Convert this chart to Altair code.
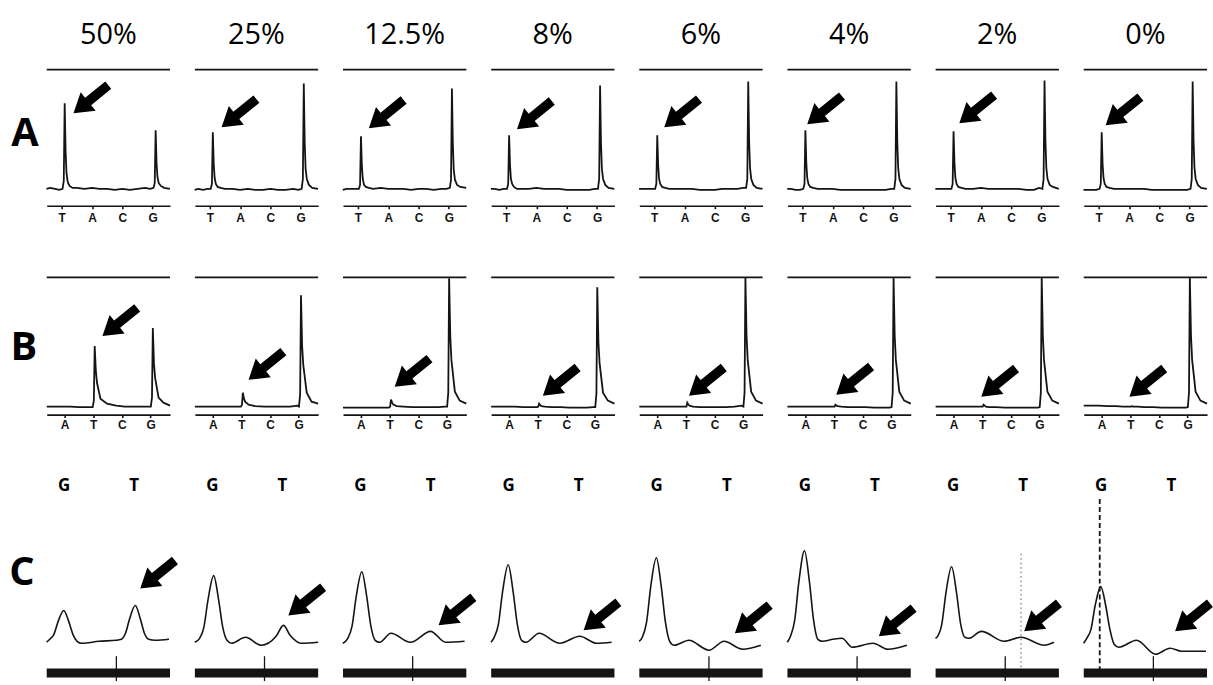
import altair as alt
import pandas as pd

PCTS = ["50%", "25%", "12.5%", "8%", "6%", "4%", "2%", "0%"]
ROW_NAMES = ["A", "B", "C"]

# ---------------- Row A : pyrograms, dispensation T A C G ----------------
A_BASES = ["T", "A", "C", "G"]
A_X = [0.5, 0.62, 0.78, 0.92, 1.03, 1.07, 1.10, 1.13, 1.16, 1.20, 1.26, 1.36,
       1.5, 1.75, 2.0, 2.25, 2.5, 2.75, 3.0, 3.25, 3.5, 3.75, 3.92,
       4.03, 4.07, 4.10, 4.13, 4.16, 4.20, 4.27, 4.38, 4.57]
A_Y = [
    [1, 2, 1, 0, 1, 9, 87, 39, 17, 8, 4, 2, 2, 1, 2, 1, 1, 0, 1, 0, 1, 2, 1, 2, 7, 60, 27, 13, 7, 4, 2, 1],
    [0, 1, 0, 1, 1, 6, 58, 26, 12, 6, 3, 2, 1, 1, 0, 1, 0, 0, 1, 0, 0, 1, 0, 1, 11, 107, 48, 21, 11, 5, 2, 1],
    [0, 1, 1, 1, 1, 5, 54, 24, 11, 5, 3, 2, 1, 2, 1, 1, 1, 0, 1, 1, 0, 1, 1, 2, 10, 102, 46, 20, 10, 5, 3, 2],
    [1, 1, 0, 1, 1, 6, 55, 25, 11, 6, 3, 1, 1, 1, 2, 1, 1, 1, 0, 0, 0, 0, 1, 1, 11, 105, 47, 21, 11, 5, 2, 1],
    [1, 1, 1, 1, 1, 6, 55, 25, 11, 6, 3, 2, 1, 1, 1, 1, 0, 0, 0, 1, 1, 1, 2, 2, 11, 109, 49, 22, 11, 5, 2, 1],
    [1, 1, 0, 0, 1, 6, 60, 27, 12, 6, 3, 2, 1, 1, 1, 0, 0, 0, 0, 0, 0, 0, 1, 1, 11, 109, 49, 22, 11, 5, 2, 1],
    [1, 1, 1, 1, 1, 6, 59, 27, 12, 6, 3, 2, 1, 1, 2, 1, 1, 1, 1, 1, 0, 0, 2, 1, 11, 110, 50, 22, 11, 5, 3, 1],
    [0, 0, 0, 0, 1, 6, 58, 26, 12, 6, 3, 2, 1, 1, 1, 1, 1, 0, 0, 0, 0, 0, 0, 1, 11, 109, 49, 22, 11, 5, 2, 1],
]
A_ARROW_X = [1.39, 1.39, 1.36, 1.36, 1.33, 1.16, 1.29, 1.23]
A_ARROW_Y = [77, 63, 62, 61, 63, 66, 67, 65]

# ---------------- Row B : pyrograms, dispensation A T C G ----------------
B_BASES = ["A", "T", "C", "G"]
B_X = [0.375, 0.6, 0.9, 1.2, 1.5, 1.75, 1.98, 2.02, 2.05, 2.09, 2.13, 2.25, 2.48, 2.8,
       3.1, 3.4, 3.7, 3.95, 4.01, 4.05, 4.08, 4.12, 4.16, 4.28, 4.45, 4.68]
B_Y = [
    [1, 1, 1, 1, 0.5, 0.5, 0.5, 7, 62, 37, 25, 9, 4, 2, 1, 1, 1, 1, 1, 10, 80, 44, 30, 10, 5, 2],
    [1, 1, 1, 1, 1, 1, 1, 3, 15, 9, 6, 3, 1.5, 1, 1, 1, 1, 2, 1, 13, 113, 62, 43, 15, 6, 4],
    [0, 0, 0, 0, 0, 0, 0, 1, 8, 5, 3, 1.5, 1, 0.5, 0.5, 0.5, 0.5, 1, 1, 15, 130, 72, 48, 16, 7, 4],
    [1, 1, 1, 1, 0.5, 0.5, 0.5, 1, 4, 2.5, 1.5, 1, 0.5, 0.5, 0, 0, 0, 0.5, 0.5, 14, 121, 66, 45, 15, 7, 4],
    [1, 1, 1, 1, 1, 1, 1, 1, 5, 3, 2, 1, 0.5, 0.5, 0.5, 0.5, 1, 2, 1, 15, 131, 72, 48, 16, 7, 4],
    [1, 1, 1, 1, 1, 1, 1, 1, 3, 2, 1.5, 1, 0.5, 0.5, 0.5, 0, 0, 0, 0.5, 15, 131, 72, 48, 16, 7, 4],
    [1, 1, 1, 1, 1, 1, 1, 1, 3, 2, 1, 0.5, 0.5, 0, 0, 0, 0, 0, 0.5, 15, 131, 72, 48, 16, 7, 4],
    [2, 2, 2, 1.5, 1.5, 1, 1, 1, 1.5, 1, 1, 1, 0.5, 0.5, 0, 0, 0, 0, 0.5, 15, 131, 72, 48, 16, 7, 4],
]
B_ARROW_X = [2.32, 2.25, 2.18, 2.18, 2.11, 2.08, 1.97, 1.97]
B_ARROW_Y = [72, 28, 21, 12, 12, 13, 11, 11]

# ---------------- Row C : sequencing traces, G and T ----------------
C_BASES = ["G", "T"]
C_BASE_POS = [1.0, 3.0]
C_X = [
    [0.5, 0.59, 0.71, 0.83, 0.99, 1.13, 1.25, 1.37, 1.5, 2.0, 2.49, 2.63, 2.75, 2.87, 3.03, 3.17, 3.29, 3.41, 3.6, 3.99],
    [0.5, 0.64, 0.76, 0.88, 1.04, 1.18, 1.30, 1.42, 1.55, 1.95, 2.40, 2.82, 3.03, 3.22, 3.54, 4.02],
    [0.5, 0.64, 0.76, 0.88, 1.04, 1.18, 1.30, 1.42, 1.55, 1.87, 2.43, 3.00, 3.43, 3.97],
    [0.5, 0.59, 0.71, 0.83, 0.99, 1.13, 1.25, 1.37, 1.5, 1.87, 2.46, 3.03, 3.51, 3.94],
    [0.5, 0.59, 0.71, 0.83, 0.99, 1.13, 1.25, 1.37, 1.5, 1.92, 2.49, 2.92, 3.45, 3.97],
    [0.5, 0.59, 0.71, 0.83, 0.99, 1.13, 1.25, 1.37, 1.5, 1.8, 2.06, 2.35, 2.94, 3.37, 3.91],
    [0.5, 0.56, 0.68, 0.80, 0.96, 1.10, 1.22, 1.34, 1.45, 1.81, 2.46, 2.94, 3.60, 3.88],
    [0.5, 0.59, 0.71, 0.83, 0.99, 1.13, 1.25, 1.37, 1.50, 2.01, 2.55, 2.97, 3.3, 3.99],
]
C_Y = [
    [-1, 2, 7, 20, 31, 20, 7, 0, -2, 0, 1, 2, 8, 23, 36, 23, 8, 2, 1, 2],
    [-1, 3, 14, 42, 66, 42, 14, 1, -2, 4, -4, 5, 16, 6, -2, -1],
    [-2, 3, 15, 45, 70, 45, 15, 1, -1, 8, -1, 10, -1, 0],
    [-1, 4, 17, 50, 77, 50, 17, 1, -1, 8, -2, 5, -2, -1],
    [0, 4, 19, 55, 84, 55, 19, 0, -4, 1, -9, 0, -8, -4],
    [-1, 5, 21, 60, 91, 60, 21, 2, 0, 2, 3, -6, -2, -8, -4],
    [3, 5, 17, 49, 75, 49, 17, 4, 3, 10, 0, 4, -4, -1],
    [-2, 3, 12, 36, 55, 36, 12, -3, -6, 1, -13, -7, -10, -10],
]
C_ARROW_X = [3.17, 3.17, 3.23, 3.14, 3.23, 3.11, 3.03, 3.11]
C_ARROW_Y = [53, 26, 16, 11, 8, 5, 10, 10]
C_TICK_X = [2.49, 2.49, 2.49, None, 2.49, 2.49, 2.49, 2.49]
C_DOT_LINE = {"2%": (2.94, 88, -29)}     # faint dotted guide at T
C_DASH_LINE = {"0%": (0.96, 143, -30)}   # dashed guide at G

# ---------------- layout constants ----------------
W = 124
A_DOM_X, A_DOM_Y, A_H = [0.508, 4.574], [-16, 121], 137
B_DOM_X, B_DOM_Y, B_H = [0.375, 4.68], [-7, 131], 138
C_DOM_X, C_DOM_Y, C_H = [0.504, 4.02], [-42, 156], 198
BLACK = "#141414"
ARROW = "M0,0L12,19L4.8,19L4.8,45L-4.8,45L-4.8,19L-12,19Z"
ARROW_ANGLE = 231


def build(xs_rows, ys_rows, ax, ay, extra):
    recs = []
    for k, p in enumerate(PCTS):
        xs = xs_rows[k] if isinstance(xs_rows[0], list) else xs_rows
        for j, (x, y) in enumerate(zip(xs, ys_rows[k])):
            recs.append(dict(pct=p, kind="trace", x=x, y=y, i=j))
        recs.append(dict(pct=p, kind="arrow", x=ax[k], y=ay[k]))
        extra(k, p, recs)
    return pd.DataFrame(recs)


def extra_a(k, p, recs):
    recs.append(dict(pct=p, kind="top", y=A_DOM_Y[1]))
    recs.append(dict(pct=p, kind="head", x=2.54, y=156, label=p))
    if k == 0:
        recs.append(dict(pct=p, kind="rowlab", x=-0.213, y=56, label=ROW_NAMES[0]))


def extra_b(k, p, recs):
    recs.append(dict(pct=p, kind="top", y=B_DOM_Y[1]))
    if k == 0:
        recs.append(dict(pct=p, kind="rowlab", x=-0.424, y=60, label=ROW_NAMES[1]))


def extra_c(k, p, recs):
    recs.append(dict(pct=p, kind="bar", y=-32))
    if C_TICK_X[k] is not None:
        recs.append(dict(pct=p, kind="tick", x=C_TICK_X[k], y=-15, y2=-40))
    for b, pos in zip(C_BASES, C_BASE_POS):
        recs.append(dict(pct=p, kind="base", x=pos, y=156, label=b))
    if p in C_DOT_LINE:
        x, y1, y2 = C_DOT_LINE[p]
        recs.append(dict(pct=p, kind="vdot", x=x, y=y1, y2=y2))
    if p in C_DASH_LINE:
        x, y1, y2 = C_DASH_LINE[p]
        recs.append(dict(pct=p, kind="vdash", x=x, y=y1, y2=y2))
    if k == 0:
        recs.append(dict(pct=p, kind="rowlab", x=-0.205, y=69, label=ROW_NAMES[2]))


dfA = build(A_X, A_Y, A_ARROW_X, A_ARROW_Y, extra_a)
dfB = build(B_X, B_Y, B_ARROW_X, B_ARROW_Y, extra_b)
dfC = build(C_X, C_Y, C_ARROW_X, C_ARROW_Y, extra_c)


def f(kind):
    return f"datum.kind == '{kind}'"


def base_axis(bases, pad):
    expr = "[''," + ",".join(f"'{b}'" for b in bases) + "][datum.value]"
    return alt.Axis(values=[1, 2, 3, 4], labelExpr=expr, title=None, grid=False,
                    domainColor=BLACK, domainWidth=1.6, tickColor=BLACK, tickWidth=1.6,
                    tickSize=3, labelColor=BLACK, labelFont="Liberation Sans",
                    labelFontWeight="bold", labelFontSize=12, labelPadding=pad,
                    labelFlush=False, labelOverlap=False)


def panel(df, dom_x, dom_y, h, axis, interp, kinds_extra, lw):
    X = alt.X("x:Q", scale=alt.Scale(domain=dom_x, nice=False, zero=False), axis=axis)
    Y = alt.Y("y:Q", scale=alt.Scale(domain=dom_y, nice=False, zero=False), axis=None)
    layers = [
        alt.Chart().mark_line(color=BLACK, strokeWidth=lw, interpolate=interp)
        .encode(x=X, y=Y, order="i:Q").transform_filter(f("trace")),
        alt.Chart().mark_point(shape=ARROW, size=4, angle=ARROW_ANGLE, filled=True,
                               color="#000000", opacity=1, strokeWidth=0)
        .encode(x=X, y=Y).transform_filter(f("arrow")),
    ]
    present = set(df["kind"])
    if "rowlab" in present:
        layers.append(alt.Chart().mark_text(font="Open Sans", fontSize=40, fontWeight="bold",
                                            color="#000000", baseline="middle", align="center")
                      .encode(x=X, y=Y, text="label:N").transform_filter(f("rowlab")))
    for kind in kinds_extra:
        if kind not in present:
            continue
        if kind == "top":
            layers.append(alt.Chart().mark_rule(color=BLACK, strokeWidth=1.7)
                          .encode(y=Y).transform_filter(f("top")))
        elif kind == "head":
            layers.append(alt.Chart().mark_text(font="Open Sans", fontSize=29, color="#000000",
                                                baseline="middle", align="center")
                          .encode(x=X, y=Y, text="label:N").transform_filter(f("head")))
        elif kind == "bar":
            layers.append(alt.Chart().mark_rule(color=BLACK, strokeWidth=9)
                          .encode(y=Y).transform_filter(f("bar")))
        elif kind == "tick":
            layers.append(alt.Chart().mark_rule(color=BLACK, strokeWidth=1.3)
                          .encode(x=X, y=Y, y2="y2:Q").transform_filter(f("tick")))
        elif kind == "base":
            layers.append(alt.Chart().mark_text(font="Open Sans", fontSize=17, fontWeight="bold",
                                                color="#000000", baseline="middle", align="center")
                          .encode(x=X, y=Y, text="label:N").transform_filter(f("base")))
        elif kind == "vdot":
            layers.append(alt.Chart().mark_rule(color="#555555", strokeWidth=1, strokeDash=[1.5, 3])
                          .encode(x=X, y=Y, y2="y2:Q").transform_filter(f("vdot")))
        elif kind == "vdash":
            layers.append(alt.Chart().mark_rule(color=BLACK, strokeWidth=1.8, strokeDash=[5, 3])
                          .encode(x=X, y=Y, y2="y2:Q").transform_filter(f("vdash")))
    return alt.layer(*layers, data=df).properties(width=W, height=h)


def row_panels(df, dom_x, dom_y, h, axis, interp, kinds_extra, lw):
    return [panel(df[df["pct"] == p].reset_index(drop=True), dom_x, dom_y, h, axis, interp,
                  kinds_extra, lw)
            for p in PCTS]


panels = (row_panels(dfA, A_DOM_X, A_DOM_Y, A_H, base_axis(A_BASES, 4), "linear", ["top", "head"], 1.8)
          + row_panels(dfB, B_DOM_X, B_DOM_Y, B_H, base_axis(B_BASES, 2), "linear", ["top"], 1.8)
          + row_panels(dfC, C_DOM_X, C_DOM_Y, C_H, None, "monotone",
                       ["bar", "tick", "base", "vdot", "vdash"], 1.6))

chart = (alt.concat(*panels, columns=8, spacing={"row": 72, "column": 25}, bounds="flush")
         .properties(padding={"left": 9, "top": 19, "right": 0, "bottom": 0},
                     background="white")
         .configure_view(stroke=None, strokeWidth=0))

chart.save("out.html", embed_options={"renderer": "svg", "actions": False})
